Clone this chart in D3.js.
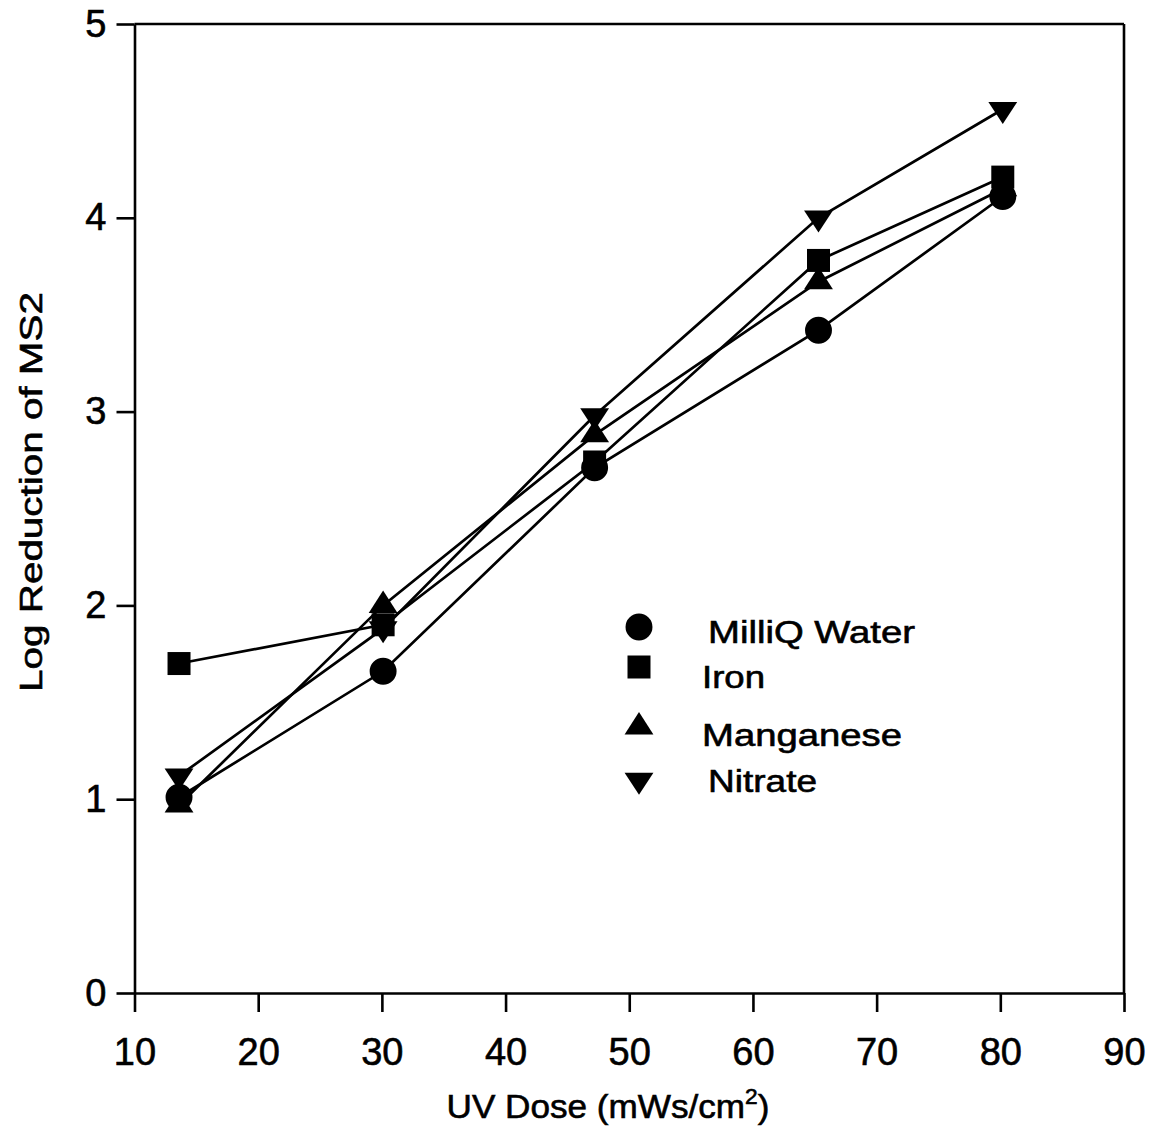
<!DOCTYPE html>
<html><head><meta charset="utf-8">
<script src="https://cdn.jsdelivr.net/npm/d3@7"></script>
<style>body{margin:0;background:#fff}svg{display:block}text{font-family:Arial,"Liberation Sans",sans-serif;fill:#000;stroke:#000;stroke-width:0.6px}</style>
</head><body>
<svg id="c" width="1158" height="1133"></svg>
<script>
const doses = [13.6, 30.1, 47.2, 65.3, 80.2];
const seriesNames = ["MilliQ Water", "Iron", "Manganese", "Nitrate"];
const milliq = [1.01, 1.66, 2.71, 3.42, 4.11];
const iron = [1.70, 1.90, 2.74, 3.78, 4.21];
const manganese = [0.97, 2.00, 2.88, 3.67, 4.15];
const nitrate = [1.12, 1.88, 2.98, 4.00, 4.56];
const xTicks = [10, 20, 30, 40, 50, 60, 70, 80, 90];
const yTicks = [0, 1, 2, 3, 4, 5];

const svg = d3.select("#c");
const L = 134.5, R = 1124, T = 24, B = 993;
const x = d3.scaleLinear().domain([10, 90]).range([L, R]);
const y = d3.scaleLinear().domain([0, 5]).range([B, T]);

// frame
svg.append("line").attr("x1", L).attr("x2", R).attr("y1", T).attr("y2", T).attr("stroke", "#000").attr("stroke-width", 2.6);
svg.append("line").attr("x1", R).attr("x2", R).attr("y1", T).attr("y2", B).attr("stroke", "#000").attr("stroke-width", 2.6);

const xa = svg.append("g").attr("transform", `translate(0,${B})`)
  .call(d3.axisBottom(x).tickValues(xTicks).tickFormat(d3.format("d")).tickSize(19).tickPadding(26).tickSizeOuter(0));
const ya = svg.append("g").attr("transform", `translate(${L},0)`)
  .call(d3.axisLeft(y).tickValues(yTicks).tickFormat(d3.format("d")).tickSize(18).tickPadding(10).tickSizeOuter(0));
[xa, ya].forEach(a => {
  a.attr("font-family", null).attr("font-size", null);
  a.select(".domain").attr("stroke", "#000").attr("stroke-width", 2.6);
  a.selectAll(".tick line").attr("stroke", "#000").attr("stroke-width", 2.6);
  a.selectAll(".tick text").style("font-size", "38px").attr("fill", "#000");
});
xa.selectAll(".tick text").attr("dy", "0.71em");

const data = [milliq, iron, manganese, nitrate];
const shapes = [d3.symbolCircle, d3.symbolSquare, d3.symbolTriangle, d3.symbolTriangle];
const sizes = [570, 529, 360, 360];
const line = d3.line().x((d, i) => x(doses[i])).y(d => y(d));

data.forEach(vals => {
  svg.append("path").datum(vals).attr("d", line).attr("fill", "none").attr("stroke", "#000").attr("stroke-width", 2.7);
});
function tri(s) { return s === 3 ? " rotate(180) scale(1,0.88)" : (s === 2 ? " scale(1,0.9)" : ""); }
data.forEach((vals, s) => {
  svg.append("g").selectAll("path").data(vals).join("path")
    .attr("d", d3.symbol().type(shapes[s]).size(sizes[s]))
    .attr("transform", (d, i) => `translate(${x(doses[i])},${y(d)})${tri(s)}`)
    .attr("fill", "#000");
});

// legend
const legMarkY = [627, 667, 727, 780];
const legTextX = [708, 702, 702, 708];
const legTextY = [643, 688, 746, 792];
const legTextW = [207, 63, 200, 109];
const lg = svg.append("g");
seriesNames.forEach((n, s) => {
  lg.append("path").attr("d", d3.symbol().type(shapes[s]).size(sizes[s]))
    .attr("transform", `translate(639,${legMarkY[s]})${tri(s)}`).attr("fill", "#000");
  lg.append("text").attr("x", legTextX[s]).attr("y", legTextY[s])
    .attr("textLength", legTextW[s]).attr("lengthAdjust", "spacingAndGlyphs")
    .style("font-size", "31px").text(n);
});

// axis titles
const xt = svg.append("text").attr("x", 0).attr("y", 0).attr("text-anchor", "middle").style("font-size", "34px");
xt.append("tspan").text("UV Dose (mWs/cm");
xt.append("tspan").attr("dy", -14).style("font-size", "22px").text("2");
xt.append("tspan").attr("dy", 14).text(")");
const xw = xt.node().getBBox().width;
xt.attr("transform", `translate(608,1118) scale(${323 / xw},1)`);

const yt = svg.append("text").attr("text-anchor", "middle").style("font-size", "32px").text("Log Reduction of MS2");
const yw = yt.node().getBBox().width;
yt.attr("transform", `translate(42,492) rotate(-90) scale(${400 / yw},1)`);
</script>
</body></html>
